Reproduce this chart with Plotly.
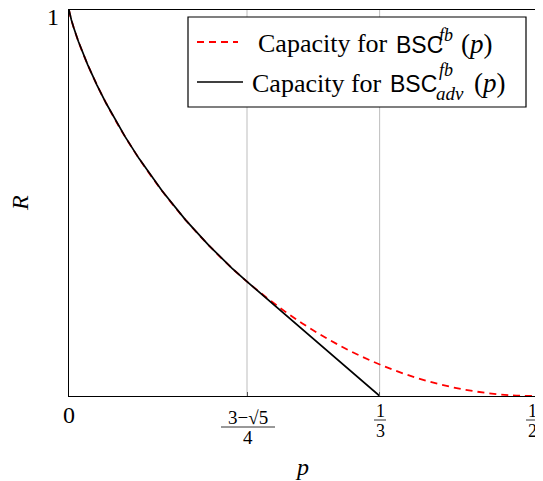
import plotly.graph_objects as go

# ---- data ----
p_fb = [0.0, 0.001, 0.0025, 0.005, 0.01, 0.02, 0.03, 0.04, 0.05, 0.06, 0.075, 0.1,
        0.125, 0.15, 0.175, 0.191, 0.2, 0.225, 0.25, 0.275, 0.3, 0.325, 0.35,
        0.375, 0.4, 0.425, 0.45, 0.475, 0.5]
cap_fb = [1.0, 0.9886, 0.9748, 0.9546, 0.9192, 0.8586, 0.8056, 0.7577, 0.7136, 0.6726,
          0.6157, 0.5310, 0.4564, 0.3902, 0.3308, 0.2964, 0.2781, 0.2308, 0.1887,
          0.1516, 0.1187, 0.0903, 0.0659, 0.0456, 0.0290, 0.0163, 0.0072, 0.0019, 0.0]

p_adv = [0.0, 0.001, 0.0025, 0.005, 0.01, 0.02, 0.03, 0.04, 0.05, 0.06, 0.075, 0.1,
         0.125, 0.15, 0.175, 0.191, 0.3333]
cap_adv = [1.0, 0.9886, 0.9748, 0.9546, 0.9192, 0.8586, 0.8056, 0.7577, 0.7136, 0.6726,
           0.6157, 0.5310, 0.4564, 0.3902, 0.3308, 0.2964, 0.0]

grid_x = [0.191, 0.3333]
tick_x = [0.0, 0.191, 0.3333, 0.5]

SERIF = "Liberation Serif"
SANS = "Liberation Sans"

# page offset (browser body margin) and plot area in page pixels
OFF = 8
W, H = 543 - OFF, 481 - OFF
L, R, T, B = 69, 535, 10, 396


def px(x):
    return (x - L) / (R - L)


def py(y):
    return (B - y) / (B - T)


fig = go.Figure()
fig.add_trace(go.Scatter(x=p_fb, y=cap_fb, mode="lines", name="Capacity for BSC^fb(p)",
                         line=dict(color="#ff0000", width=1.8, dash="7px,5px", shape="spline"),
                         showlegend=False))
fig.add_trace(go.Scatter(x=p_adv, y=cap_adv, mode="lines", name="Capacity for BSC_adv^fb(p)",
                         line=dict(color="black", width=1.7), showlegend=False))

shapes = []
for gx in grid_x:
    shapes.append(dict(type="line", xref="x", yref="paper", x0=gx, x1=gx, y0=0, y1=1,
                       line=dict(color="#bdbdbd", width=1), layer="below"))

annotations = []


def ann(text, x, y, size, xanchor="center", family=SERIF, yanchor="middle"):
    annotations.append(dict(text=text, x=px(x), y=py(y), xref="paper", yref="paper",
                            showarrow=False, xanchor=xanchor, yanchor=yanchor,
                            font=dict(family=family, size=size, color="black")))


def hline(x0, x1, y, color="black", width=1, dash=None):
    ln = dict(color=color, width=width)
    if dash:
        ln["dash"] = dash
    shapes.append(dict(type="line", xref="paper", yref="paper", x0=px(x0), x1=px(x1),
                       y0=py(y), y1=py(y), line=ln, layer="above"))


# x tick labels
ann("0", 69, 415, 24)
ann("3−√5", 248, 417, 19)
hline(221, 275, 427, color="#333333", width=1)
ann("4", 248, 437, 19)
ann("1", 380, 411, 18)
hline(374, 386, 420, color="#333333", width=1)
ann("3", 380, 431, 18)
ann("1", 532, 411, 18)
hline(526, 538, 420, color="#333333", width=1)
ann("2", 532, 431, 18)

# y tick label
ann("1", 53, 17, 24)

# axis titles
ann("<i>p</i>", 302, 467, 24)
annotations.append(dict(text="<i>R</i>", x=px(20), y=py(203), xref="paper", yref="paper",
                        showarrow=False, textangle=-90, xanchor="center", yanchor="middle",
                        font=dict(family=SERIF, size=24, color="black")))

# custom legend
shapes.append(dict(type="rect", xref="paper", yref="paper", x0=px(188), x1=px(526),
                   y0=py(107), y1=py(17), line=dict(color="black", width=1.2),
                   fillcolor="white", layer="above"))
hline(197, 238, 42, color="#ff0000", width=1.8, dash="7px,5px")
hline(197, 243, 82, color="black", width=1.7)

ann("Capacity for", 256, 44, 26, xanchor="left")
ann("BSC", 394, 45, 23, xanchor="left", family=SANS)
ann("<i>fb</i>", 437, 35, 18, xanchor="left")
ann("(<i>p</i>)", 459, 44, 27, xanchor="left")

ann("Capacity for", 250, 83, 26, xanchor="left")
ann("BSC", 388, 84, 23, xanchor="left", family=SANS)
ann("<i>fb</i>", 437, 70, 18, xanchor="left")
ann("<i>adv</i>", 434, 93, 19, xanchor="left")
ann("(<i>p</i>)", 472, 83, 27, xanchor="left")

fig.update_layout(
    width=W, height=H,
    margin=dict(l=L - OFF, r=W - (R - OFF), t=T - OFF, b=H - (B - OFF)),
    plot_bgcolor="white", paper_bgcolor="white",
    shapes=shapes, annotations=annotations,
    showlegend=False,
)
fig.update_xaxes(range=[0, 0.5], tickvals=tick_x, showticklabels=False, showgrid=False,
                 zeroline=False, showline=True, linecolor="black", linewidth=1.2, mirror=True,
                 ticks="inside", ticklen=4, tickcolor="#555555")
fig.update_yaxes(range=[0, 1], tickvals=[0, 1], showticklabels=False, showgrid=False,
                 zeroline=False, showline=True, linecolor="black", linewidth=1.2, mirror=True,
                 ticks="")

fig.write_html("out.html")
